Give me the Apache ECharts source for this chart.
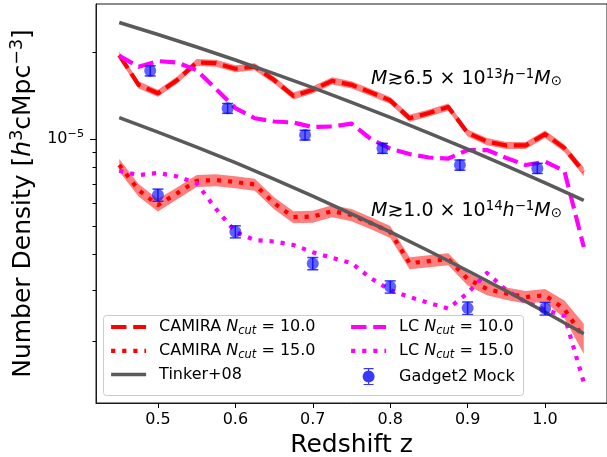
<!DOCTYPE html>
<html>
<head>
<meta charset="utf-8">
<script src="https://cdn.jsdelivr.net/npm/echarts@6/dist/echarts.min.js"></script>
<style>
  html, body { margin: 0; padding: 0; background: #fff; }
  #chart { width: 607px; height: 457px; }
</style>
</head>
<body>
<div id="chart"></div>
<script>
// Redshift grid of the cluster-count curves
const zGrid = [0.45, 0.475, 0.5, 0.525, 0.55, 0.575, 0.6, 0.625, 0.65, 0.675, 0.7, 0.725, 0.75,
               0.775, 0.8, 0.825, 0.85, 0.875, 0.9, 0.925, 0.95, 0.975, 1.0, 1.025, 1.05];

// Number densities in units of 1e-6 h^3 cMpc^-3
const camira10 = [19.5, 15.4, 14.4, 16.0, 18.4, 18.3, 17.5, 17.8, 16.0, 14.1, 14.8, 15.9, 15.4,
                  14.5, 13.6, 11.8, 12.3, 12.9, 10.5, 9.8, 9.5, 9.5, 10.4, 9.3, 7.7];
const camira15 = [8.13, 6.66, 5.91, 6.50, 7.17, 7.21, 7.10, 6.96, 6.00, 5.37, 5.39, 5.63, 5.46,
                  5.12, 4.77, 3.72, 3.78, 3.84, 3.28, 3.03, 2.92, 2.84, 2.88, 2.58, 2.05];
const lc10 = [19.4, 17.8, 18.6, 18.4, 17.3, 14.9, 12.8, 11.8, 11.5, 11.4, 11.0, 11.05, 11.3,
              10.0, 9.27, 8.87, 8.63, 8.56, 9.16, 9.16, 8.60, 8.13, 8.35, 7.75, 4.23];
const lc15 = [7.77, 7.50, 7.63, 7.42, 7.03, 5.73, 4.77, 4.47, 4.42, 4.30, 4.06, 3.88, 3.72,
              3.30, 3.00, 2.84, 2.71, 2.59, 2.93, 3.44, 3.00, 2.73, 2.57, 2.44, 1.44];

// Fractional scatter of the CAMIRA counts (shaded bands)
const camira10Err = [0.03, 0.028, 0.028, 0.028, 0.028, 0.028, 0.028, 0.028, 0.028, 0.028, 0.028, 0.028, 0.028,
                     0.028, 0.028, 0.028, 0.028, 0.028, 0.028, 0.028, 0.028, 0.028, 0.03, 0.03, 0.035];
const camira15Err = [0.05, 0.05, 0.05, 0.048, 0.048, 0.048, 0.048, 0.048, 0.048, 0.048, 0.048, 0.048, 0.048,
                     0.048, 0.048, 0.048, 0.048, 0.048, 0.05, 0.05, 0.05, 0.05, 0.052, 0.07, 0.12];

// Tinker et al. (2008) mass function predictions
const tinkerZ = [0.45, 0.5, 0.55, 0.6, 0.65, 0.7, 0.75, 0.8, 0.85, 0.9, 0.95, 1.0, 1.05];
const tinker65 = [25.3, 22.99, 20.81, 18.77, 16.84, 15.05, 13.40, 11.88, 10.49, 9.23, 8.08, 7.05, 6.13];
const tinker100 = [11.85, 10.57, 9.38, 8.28, 7.27, 6.35, 5.51, 4.77, 4.10, 3.50, 2.98, 2.52, 2.12];

// Gadget2 mock measurements with 1-sigma errors
const mockZ65 = [0.49, 0.59, 0.69, 0.79, 0.89, 0.99];
const mock65 = [17.23, 12.77, 10.32, 9.29, 8.13, 7.92];
const mock65Err = [0.7, 0.5, 0.4, 0.37, 0.33, 0.32];
const mockZ100 = [0.5, 0.6, 0.7, 0.8, 0.9, 1.0];
const mock100 = [6.40, 4.78, 3.71, 3.08, 2.60, 2.59];
const mock100Err = [0.31, 0.23, 0.18, 0.15, 0.13, 0.13];

// Axis ticks
const xTicks = [0.5, 0.6, 0.7, 0.8, 0.9, 1.0];
const yMajorTicks = [1e-5];
const yMinorTicks = [2e-6, 3e-6, 4e-6, 5e-6, 6e-6, 7e-6, 8e-6, 9e-6, 2e-5];

const UNIT = 1e-6;
const FONT = 'DejaVu Sans';

const pairs = (xs, ys) => xs.map((x, i) => [x, ys[i] * UNIT]);

const RED = '#ff0000';
const MAGENTA = '#ff00ff';
const GREY = '#5a5a5a';
const MOCK_BLUE = 'rgba(0,0,255,0.78)';
const DASH = [15.4, 6.7];
const DOT = [4.2, 6.9];
const LW = 4.2;
const TINKER_LW = 3.5;

function lineSeries(name, xs, ys, color, type, width, z) {
  return {
    name, type: 'line', data: pairs(xs, ys), showSymbol: false, symbol: 'none',
    z, animation: false,
    lineStyle: { color, width, type, cap: 'butt', join: 'round' },
    itemStyle: { color }
  };
}

function bandSeries(ys, rel) {
  return {
    type: 'custom', silent: true, z: 1, animation: false,
    data: [[zGrid[0], ys[0] * UNIT]],
    renderItem(params, api) {
      const upper = zGrid.map((z, i) => api.coord([z, ys[i] * UNIT * (1 + rel[i])]));
      const lower = zGrid.map((z, i) => api.coord([z, ys[i] * UNIT * (1 - rel[i])])).reverse();
      return { type: 'polygon', shape: { points: upper.concat(lower) }, style: { fill: 'rgba(255,0,0,0.5)' } };
    }
  };
}

const mockData = pairs(mockZ65, mock65).concat(pairs(mockZ100, mock100));
const mockErr = mock65Err.concat(mock100Err).map(e => e * UNIT);

const legendLabels = {
  'CAMIRA 10': 'CAMIRA {it|N}{sub|cut} = 10.0',
  'CAMIRA 15': 'CAMIRA {it|N}{sub|cut} = 15.0',
  'LC 10': 'LC {it|N}{sub|cut} = 10.0',
  'LC 15': 'LC {it|N}{sub|cut} = 15.0',
  'Tinker+08': 'Tinker+08',
  'Gadget2 Mock': 'Gadget2 Mock'
};

const legendText = {
  fontSize: 16, fontFamily: FONT, color: '#000', padding: [0, 0, 0, 8],
  rich: {
    it: { fontSize: 16, fontFamily: FONT, fontStyle: 'italic', color: '#000' },
    sub: { fontSize: 11.5, fontFamily: FONT, fontStyle: 'italic', color: '#000', padding: [8, 0, 0, 0] }
  }
};

const mockIcon = 'path://M0,0 L0,0 M35,20 L35,20 ' +
  'M11.5,10 a6,6 0 1,1 12,0 a6,6 0 1,1 -12,0 Z ' +
  'M16.9,1.5 h1.2 v17 h-1.2 Z M12.5,1.5 h10 v1.2 h-10 Z M12.5,17.3 h10 v1.2 h-10 Z';

const legendCommon = {
  orient: 'vertical', itemWidth: 35, itemHeight: 20, itemGap: 5.8, padding: 0,
  selectedMode: false, z: 6, textStyle: legendText,
  itemStyle: { opacity: 0 },
  formatter: name => legendLabels[name]
};

const lineItem = (name, width) => ({ name, lineStyle: { width } });

const annoRich = {
  i: { fontSize: 19, fontFamily: FONT, fontStyle: 'italic', fill: '#000' },
  sup: { fontSize: 13.3, fontFamily: FONT, fill: '#000', padding: [0, 0, 9, 0] },
  sub: { fontSize: 13.3, fontFamily: FONT, fill: '#000', padding: [6, 0, 0, 0] }
};

const chart = echarts.init(document.getElementById('chart'), null, { renderer: 'canvas' });

chart.setOption({
  animation: false,
  backgroundColor: '#fff',
  textStyle: { fontFamily: FONT },
  grid: {
    left: 96, top: 4, width: 511, height: 399, show: true,
    borderColor: '#1a1a1a', borderWidth: 1, backgroundColor: 'transparent',
    containLabel: false, outerBoundsMode: 'none'
  },
  xAxis: {
    type: 'value', min: 0.42, max: 1.08,
    splitLine: { show: false },
    axisLine: { show: true, lineStyle: { color: '#1a1a1a', width: 1 } },
    axisTick: { show: true, customValues: xTicks, length: 5, lineStyle: { color: '#000', width: 1 } },
    axisLabel: { customValues: xTicks, formatter: v => v.toFixed(1), fontSize: 16, fontFamily: FONT, color: '#000', margin: 9 },
    name: 'Redshift z', nameLocation: 'middle', nameGap: 25,
    nameTextStyle: { fontSize: 25, fontFamily: FONT, color: '#000' }
  },
  yAxis: [
    {
      type: 'log', min: 1.221e-6, max: 2.932e-5,
      splitLine: { show: false },
      axisLine: { show: true, lineStyle: { color: '#1a1a1a', width: 1 } },
      axisTick: { show: true, customValues: yMajorTicks, length: 6, lineStyle: { color: '#000', width: 1 } },
      axisLabel: {
        customValues: yMajorTicks, margin: 12, fontSize: 16, fontFamily: FONT, color: '#000',
        formatter: v => '{b|10}{s|' + String(Math.round(Math.log10(v))).replace('-', '\u2212') + '}',
        rich: {
          b: { fontSize: 16, fontFamily: FONT, color: '#000' },
          s: { fontSize: 11.2, fontFamily: FONT, color: '#000', padding: [0, 0, 9, 0] }
        }
      },
      name: 'Number Density [{i|h}{s|3}cMpc{s|\u22123}]',
      nameLocation: 'middle', nameRotate: 90, nameGap: 55,
      nameTextStyle: {
        fontSize: 25, fontFamily: FONT, color: '#000',
        rich: {
          i: { fontSize: 25, fontFamily: FONT, fontStyle: 'italic', color: '#000' },
          s: { fontSize: 17.5, fontFamily: FONT, color: '#000', padding: [0, 0, 12, 0] }
        }
      }
    },
    {
      type: 'log', min: 1.221e-6, max: 2.932e-5, position: 'left',
      splitLine: { show: false },
      axisLine: { show: false },
      axisLabel: { show: false },
      axisTick: { show: true, customValues: yMinorTicks, length: 3.5, lineStyle: { color: '#000', width: 1 } }
    }
  ],
  legend: [
    Object.assign({}, legendCommon, {
      left: 109, top: 319,
      data: [lineItem('CAMIRA 10', LW), lineItem('CAMIRA 15', LW), lineItem('Tinker+08', TINKER_LW)]
    }),
    Object.assign({}, legendCommon, {
      left: 349, top: 319,
      data: [lineItem('LC 10', LW), lineItem('LC 15', LW),
             { name: 'Gadget2 Mock', icon: mockIcon, itemStyle: { color: MOCK_BLUE, opacity: 1 } }]
    })
  ],
  graphic: [
    {
      type: 'rect', z: 5, silent: true,
      shape: { x: 103.5, y: 315.5, width: 420, height: 80, r: 3 },
      style: { fill: 'rgba(255,255,255,0.8)', stroke: '#cccccc', lineWidth: 1 }
    },
    {
      type: 'text', x: 371, y: 79, z: 5, silent: true,
      style: {
        text: '{i|M}\u22736.5 \u00d7 10{sup|13}{i|h}{sup|\u22121}{i|M}{sub|\u2299}',
        fontSize: 19, fontFamily: FONT, fill: '#000', verticalAlign: 'middle', rich: annoRich
      }
    },
    {
      type: 'text', x: 371, y: 211, z: 5, silent: true,
      style: {
        text: '{i|M}\u22731.0 \u00d7 10{sup|14}{i|h}{sup|\u22121}{i|M}{sub|\u2299}',
        fontSize: 19, fontFamily: FONT, fill: '#000', verticalAlign: 'middle', rich: annoRich
      }
    }
  ],
  series: [
    bandSeries(camira10, camira10Err),
    bandSeries(camira15, camira15Err),
    lineSeries('CAMIRA 10', zGrid, camira10, RED, DASH, LW, 2),
    lineSeries('CAMIRA 15', zGrid, camira15, RED, DOT, LW, 2),
    lineSeries('LC 10', zGrid, lc10, MAGENTA, DASH, LW, 2),
    lineSeries('LC 15', zGrid, lc15, MAGENTA, DOT, LW, 2),
    lineSeries('Tinker+08', tinkerZ, tinker65, GREY, 'solid', TINKER_LW, 3),
    lineSeries('Tinker+08', tinkerZ, tinker100, GREY, 'solid', TINKER_LW, 3),
    {
      type: 'custom', name: 'Gadget2 Mock errors', z: 4, silent: true, animation: false,
      data: mockData.map((p, i) => [p[0], p[1], mockErr[i]]),
      renderItem(params, api) {
        const x = api.value(0), y = api.value(1), e = api.value(2);
        const lo = api.coord([x, y - e]);
        const hi = api.coord([x, y + e]);
        const cw = 5.5;
        const st = { stroke: MOCK_BLUE, lineWidth: 1.5 };
        return {
          type: 'group', children: [
            { type: 'line', shape: { x1: lo[0], y1: lo[1], x2: hi[0], y2: hi[1] }, style: st },
            { type: 'line', shape: { x1: lo[0] - cw, y1: lo[1], x2: lo[0] + cw, y2: lo[1] }, style: st },
            { type: 'line', shape: { x1: hi[0] - cw, y1: hi[1], x2: hi[0] + cw, y2: hi[1] }, style: st }
          ]
        };
      }
    },
    {
      type: 'scatter', name: 'Gadget2 Mock', z: 5, data: mockData,
      symbol: 'circle', symbolSize: 12,
      itemStyle: { color: MOCK_BLUE }
    }
  ]
});
</script>
</body>
</html>
